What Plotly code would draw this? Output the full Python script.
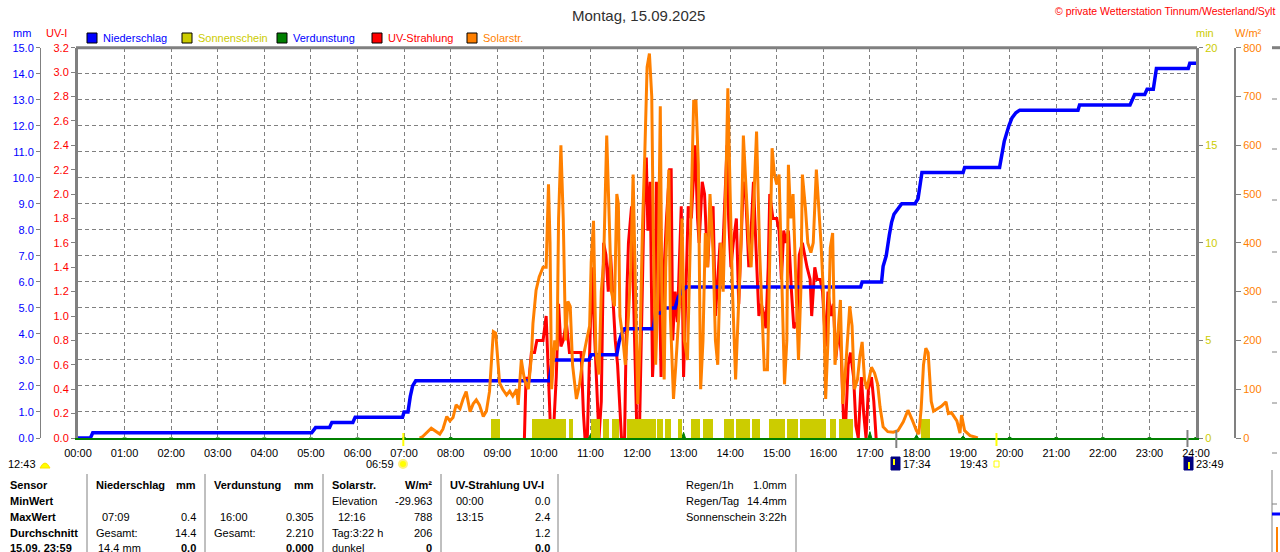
import plotly.graph_objects as go

# ---- data (Montag, 15.09.2025) ----
hour_labels = ["00:00", "01:00", "02:00", "03:00", "04:00", "05:00", "06:00", "07:00", "08:00",
               "09:00", "10:00", "11:00", "12:00", "13:00", "14:00", "15:00", "16:00", "17:00",
               "18:00", "19:00", "20:00", "21:00", "22:00", "23:00", "24:00"]

series_names = ["Niederschlag", "Sonnenschein", "Verdunstung", "UV-Strahlung", "Solarstr."]

# Niederschlag (mm, cumulative)
rain_times = ["00:00", "00:16", "00:19", "05:01", "05:06", "05:24", "05:27", "05:54", "05:57",
              "06:58", "07:00", "07:05", "07:08", "07:11", "07:15", "10:07", "10:11", "10:58",
              "11:01", "11:34", "11:37", "11:40", "11:44", "12:21", "12:24", "12:32", "12:34",
              "12:49", "12:53", "12:57", "13:03", "16:48", "16:50", "17:15", "17:17", "17:21",
              "17:25", "17:28", "17:31", "17:36", "17:41", "17:58", "18:02", "18:05", "18:07",
              "19:00", "19:02", "19:47", "19:51", "19:53", "19:59", "20:03", "20:08", "20:13",
              "21:28", "21:30", "22:35", "22:41", "22:54", "22:57", "23:05", "23:09", "23:50",
              "23:52", "24:00"]
rain_mm = [0, 0, 0.2, 0.2, 0.4, 0.4, 0.6, 0.6, 0.8,
           0.8, 1.0, 1.0, 1.6, 2.0, 2.2, 2.2, 3.0, 3.0,
           3.2, 3.2, 3.7, 4.0, 4.2, 4.2, 4.8, 4.8, 5.0,
           5.0, 5.4, 5.6, 5.8, 5.8, 6.0, 6.0, 6.6, 7.0,
           7.8, 8.3, 8.6, 8.8, 9.0, 9.0, 9.2, 9.8, 10.2,
           10.2, 10.4, 10.4, 11.1, 11.4, 12.0, 12.3, 12.5, 12.6,
           12.6, 12.8, 12.8, 13.2, 13.2, 13.4, 13.4, 14.2, 14.2,
           14.4, 14.4]

# Solarstrahlung (W/m²)
solar_times = ["07:20", "07:24", "07:35", "07:39", "07:46", "07:50", "07:55", "07:59", "08:03",
               "08:07", "08:12", "08:16", "08:20", "08:25", "08:29", "08:33", "08:37", "08:42",
               "08:46", "08:50", "08:55", "08:58", "09:03", "09:07", "09:12", "09:16", "09:20",
               "09:25", "09:27", "09:31", "09:35", "09:40", "09:44", "09:46", "09:50", "09:54",
               "09:59", "10:03", "10:06", "10:08", "10:10", "10:14", "10:17", "10:19", "10:22",
               "10:25", "10:28", "10:31", "10:34", "10:37", "10:42", "10:46", "10:50", "10:55",
               "10:59", "11:01", "11:04", "11:07", "11:11", "11:14", "11:17", "11:21", "11:24",
               "11:27", "11:31", "11:34", "11:36", "11:38", "11:42", "11:45", "11:49", "11:52",
               "11:55", "11:58", "12:01", "12:04", "12:07", "12:10", "12:13", "12:16", "12:19",
               "12:21", "12:24", "12:27", "12:30", "12:32", "12:35", "12:37", "12:41", "12:43",
               "12:47", "12:50", "12:55", "12:58", "13:01", "13:05", "13:10", "13:13", "13:16",
               "13:19", "13:22", "13:25", "13:28", "13:31", "13:34", "13:38", "13:41", "13:44",
               "13:48", "13:51", "13:55", "13:57", "14:00", "14:03", "14:07", "14:10", "14:14",
               "14:17", "14:20", "14:24", "14:27", "14:31", "14:34", "14:38", "14:41", "14:44",
               "14:48", "14:51", "14:54", "14:57", "15:00", "15:03", "15:07", "15:10", "15:13",
               "15:15", "15:18", "15:21", "15:25", "15:28", "15:31", "15:33", "15:37", "15:40",
               "15:44", "15:47", "15:51", "15:54", "15:57", "16:00", "16:03", "16:06", "16:09",
               "16:12", "16:15", "16:18", "16:22", "16:25", "16:29", "16:34", "16:37", "16:40",
               "16:44", "16:47", "16:50", "16:53", "16:56", "17:02", "17:06", "17:10", "17:13",
               "17:17", "17:23", "17:30", "17:36", "17:43", "17:49", "17:55", "18:00", "18:03",
               "18:06", "18:09", "18:12", "18:15", "18:17", "18:19", "18:22", "18:28", "18:32",
               "18:38", "18:41", "18:45", "18:52", "18:56", "18:58", "19:02", "19:09", "19:15",
               "19:19"]
solar_wm2 = [0, 3, 20, 15, 8, 18, 44, 35, 42,
             68, 60, 80, 95, 54, 70, 78, 68, 44,
             55, 95, 218, 215, 113, 100, 88, 96, 86,
             100, 68, 160, 120, 100, 167, 235, 303, 330,
             350, 350, 520, 400, 100, 200, 180, 450, 600,
             450, 200, 280, 270, 150, 80, 110, 160, 200,
             230, 360, 445, 180, 130, 300, 360, 620, 450,
             300, 270, 500, 480, 250, 200, 150, 250, 350,
             540, 300, 70, 200, 430, 580, 760, 788, 700,
             420, 150, 300, 680, 300, 120, 350, 550, 250,
             80, 150, 280, 450, 200, 160, 480, 690, 690,
             560, 100, 200, 420, 350, 500, 380, 200, 150,
             400, 300, 560, 717, 500, 300, 120, 250, 400,
             620, 520, 400, 350, 500, 628, 380, 250, 140,
             140, 400, 594, 540, 520, 540, 300, 110, 200,
             560, 450, 500, 300, 160, 300, 540, 470, 400,
             380, 400, 550, 480, 400, 300, 80, 200, 390,
             420, 150, 200, 283, 70, 150, 270, 230, 100,
             120, 167, 197, 120, 100, 145, 133, 110, 64,
             23, 13, 12, 15, 33, 57, 35, 15, 8,
             60, 150, 184, 175, 110, 75, 55, 60, 65,
             74, 50, 52, 35, 10, 47, 15, 5, 2,
             0]

# UV-Strahlung (UV-Index)
uv_times = ["09:35", "09:37", "09:41", "09:44", "09:48", "09:51", "09:59", "10:03", "10:06",
            "10:09", "10:12", "10:16", "10:19", "10:22", "10:25", "10:29", "10:33", "10:42",
            "10:48", "10:51", "10:53", "10:56", "10:59", "11:02", "11:05", "11:08", "11:11",
            "11:14", "11:17", "11:20", "11:23", "11:26", "11:29", "11:32", "11:35", "11:38",
            "11:40", "11:44", "11:47", "11:49", "11:53", "11:55", "11:58", "12:00", "12:03",
            "12:07", "12:09", "12:12", "12:14", "12:17", "12:20", "12:23", "12:25", "12:28",
            "12:31", "12:35", "12:38", "12:42", "12:44", "12:46", "12:49", "12:52", "12:57",
            "13:00", "13:03", "13:06", "13:10", "13:13", "13:15", "13:18", "13:20", "13:24",
            "13:27", "13:31", "13:34", "13:38", "13:41", "13:44", "13:47", "13:50", "13:53",
            "13:56", "13:58", "14:01", "14:04", "14:08", "14:11", "14:14", "14:17", "14:20",
            "14:24", "14:27", "14:30", "14:33", "14:37", "14:40", "14:44", "14:46", "14:49",
            "14:51", "14:55", "15:00", "15:03", "15:06", "15:09", "15:12", "15:15", "15:19",
            "15:22", "15:26", "15:29", "15:33", "15:36", "15:39", "15:43", "15:45", "15:49",
            "15:52", "15:56", "15:59", "16:03", "16:06", "16:10", "16:13", "16:16", "16:20",
            "16:23", "16:26", "16:28", "16:32", "16:35", "16:39", "16:42", "16:45", "16:49",
            "16:52", "16:55", "16:58", "17:02", "17:05", "17:08"]
uv_index = [0, 0.49, 0.49, 0.7, 0.7, 0.8, 0.8, 1.0, 0.5,
            0.0, 0.0, 0.5, 1.1, 0.75, 0.8, 0.95, 0.7, 0.7,
            0.7, 0.2, 0.0, 0.0, 0.8, 1.4, 0.9, 0.5, 0.0,
            0.3, 1.6, 1.5, 1.2, 1.5, 1.1, 0.8, 0.6, 0.2,
            0.0, 0.0, 1.2, 1.6, 1.9, 1.3, 0.4, 0.0, 0.0,
            1.2, 1.9, 2.3, 1.7, 2.1, 0.5, 0.9, 2.1, 1.6,
            0.5, 1.4, 1.8, 2.2, 2.2, 0.8, 1.2, 0.95, 1.9,
            0.5, 1.2, 1.9, 1.8, 2.2, 2.4, 1.8, 1.6, 2.1,
            2.0, 1.4, 1.8, 1.9, 1.0, 1.3, 1.6, 1.45, 1.9,
            2.4, 1.8, 1.4, 1.6, 1.8, 1.1, 1.6, 2.1, 2.0,
            1.4, 1.7, 2.1, 1.6, 1.0, 1.1, 1.0, 0.9, 1.4,
            2.0, 1.8, 1.8, 1.7, 1.3, 1.7, 1.6, 1.7, 1.2,
            0.9, 0.95, 1.5, 1.6, 1.5, 1.4, 1.3, 1.0, 1.4,
            1.3, 1.3, 1.2, 0.75, 1.2, 1.0, 1.1, 0.65, 0.9,
            0.7, 0.15, 0.0, 0.6, 0.7, 0.5, 0.1, 0.0, 0.5,
            0.2, 0.0, 0.4, 0.5, 0.3, 0.0]

# Sonnenschein (sunny stretches, 1 min per minute)
sun_start = ["08:52", "09:45", "10:32", "11:01", "11:16", "11:28", "11:47", "12:26", "12:36",
             "12:53", "13:10", "13:25", "13:52", "14:08", "14:28", "14:50", "15:13", "15:30",
             "16:09", "16:20", "18:06"]
sun_end = ["09:04", "10:28", "10:38", "11:12", "11:24", "11:37", "12:25", "12:33", "12:44",
           "12:58", "13:21", "13:38", "14:05", "14:26", "14:38", "15:10", "15:27", "16:03",
           "16:16", "16:38", "18:18"]
sun_minutes = [1] * len(sun_start)

# Verdunstung (mm per hour)
evap_times = ["01:00", "02:00", "03:00", "04:00", "05:00", "06:00", "07:00", "08:00", "09:00",
              "10:00", "11:00", "12:00", "13:00", "14:00", "15:00", "16:00", "17:00", "18:00",
              "19:00", "20:00", "21:00", "22:00", "23:00", "24:00"]
evap_mm = [0.01, 0.01, 0.01, 0.01, 0.01, 0.01, 0.02, 0.03, 0.06,
           0.10, 0.14, 0.18, 0.22, 0.25, 0.27, 0.305, 0.245, 0.12,
           0.08, 0.04, 0.03, 0.02, 0.02, 0.02]

# Sun / moon events
sunrise, sunset = "06:59", "19:43"
moonset, moonrise = "17:34", "23:49"


def hrs(t):
    h, m = t.split(":")
    return int(h) + int(m) / 60


W, H = 1280, 552


def px(x):
    return x / W


def py(y):
    return 1 - y / H


FONT = "Liberation Sans, Arial, sans-serif"
GRID = "#808080"
BLUE, YEL, GREEN, RED, ORANGE = "#0000FF", "#CCCC00", "#008000", "#FF0000", "#FF8000"

fig = go.Figure()

# sunshine bars (min axis)
sx = [(hrs(a) + hrs(b)) / 2 for a, b in zip(sun_start, sun_end)]
sw = [hrs(b) - hrs(a) for a, b in zip(sun_start, sun_end)]
fig.add_trace(go.Bar(x=sx, y=sun_minutes, width=sw, yaxis="y3", marker=dict(color=YEL, line=dict(width=0)),
                     showlegend=False, hoverinfo="skip"))

fig.add_trace(go.Scatter(x=[hrs(t) for t in solar_times], y=solar_wm2, yaxis="y4", mode="lines",
                         line=dict(color=ORANGE, width=3), showlegend=False))
fig.add_trace(go.Scatter(x=[hrs(t) for t in uv_times], y=uv_index, yaxis="y", mode="lines",
                         line=dict(color=RED, width=3), showlegend=False))

ex, ey = [], []
for t, v in zip(evap_times, evap_mm):
    ex += [hrs(t) - 0.04, hrs(t), hrs(t) + 0.04, None]
    ey += [0, v, 0, None]
fig.add_trace(go.Scatter(x=ex, y=ey, yaxis="y2", mode="lines", fill="toself", fillcolor=GREEN,
                         line=dict(color=GREEN, width=1), showlegend=False))

fig.add_trace(go.Scatter(x=[hrs(t) for t in rain_times], y=rain_mm, yaxis="y2", mode="lines",
                         line=dict(color=BLUE, width=3.5), showlegend=False))

tickfont = dict(family=FONT, size=11)
fig.update_layout(
    template="none",
    width=W, height=H, margin=dict(l=0, r=0, t=0, b=0, pad=0), autosize=False,
    paper_bgcolor="white", plot_bgcolor="white",
    font=dict(family=FONT, size=11, color="black"),
    showlegend=False, bargap=0,
    xaxis=dict(domain=[px(78), px(1196)], range=[0, 24], tickvals=list(range(25)), ticktext=hour_labels,
               automargin=False, showgrid=True, gridcolor=GRID, griddash="4px,3px", gridwidth=1,
               showline=True, linecolor=GREEN, linewidth=2, zeroline=False,
               ticks="outside", ticklen=4, tickcolor="rgba(0,0,0,0)", tickfont=dict(family=FONT, size=11, color="black")),
    yaxis=dict(domain=[py(438), py(47.7)], range=[0, 3.2], dtick=0.2, tickformat=".1f", automargin=False,
               showgrid=False, zeroline=False, showline=True, linecolor=GRID, linewidth=3,
               ticks="outside", ticklen=4, tickcolor=GRID, tickfont=dict(tickfont, color=RED)),
    yaxis2=dict(overlaying="y", anchor="free", position=px(40), side="left", range=[0, 15], dtick=1,
                tickformat=".1f", automargin=False, showgrid=True, gridcolor=GRID, griddash="4px,3px", gridwidth=1,
                zeroline=False, showline=True, linecolor=GRID, linewidth=1,
                ticks="outside", ticklen=4, tickcolor=GRID, tickfont=dict(tickfont, color=BLUE)),
    yaxis3=dict(overlaying="y", anchor="x", side="right", range=[0, 20], tickvals=[0, 5, 10, 15, 20],
                automargin=False, showgrid=False, zeroline=False, showline=True, linecolor=GRID, linewidth=3,
                ticks="outside", ticklen=4, tickcolor=GRID, tickfont=dict(tickfont, color=YEL)),
    yaxis4=dict(overlaying="y", anchor="free", position=px(1235), side="right", range=[0, 800], dtick=100,
                automargin=False, showgrid=False, zeroline=False, showline=True, linecolor=GRID, linewidth=2,
                ticks="outside", ticklen=5, tickcolor=GRID, tickfont=dict(tickfont, color=ORANGE)),
)

shapes = []
ann = []


def text(x, y, s, color="black", size=11, anchor="left", bold=False):
    ann.append(dict(x=px(x), y=py(y), xref="paper", yref="paper", text=f"<b>{s}</b>" if bold else s,
                    showarrow=False, xanchor=anchor, yanchor="middle",
                    font=dict(family=FONT, size=size, color=color)))


def rect(x0, y0, x1, y1, fill, line="black", lw=1):
    shapes.append(dict(type="rect", xref="paper", yref="paper", x0=px(x0), x1=px(x1), y0=py(y1), y1=py(y0),
                       fillcolor=fill, line=dict(color=line, width=lw)))


def pline(x0, y0, x1, y1, color=GRID, lw=1):
    shapes.append(dict(type="line", xref="paper", yref="paper", x0=px(x0), x1=px(x1), y0=py(y0), y1=py(y1),
                       line=dict(color=color, width=lw)))


# frame top
pline(76, 47.7, 1197, 47.7, GRID, 3)

# title & header
text(638, 15, "Montag, 15.09.2025", "#303030", 15, "center")
text(1277, 11, "© private Wetterstation Tinnum/Westerland/Sylt", RED, 10.5, "right")
text(22, 33, "mm", BLUE, 11, "center")
text(56, 33, "UV-I", RED, 11, "center")
text(1205, 33, "min", YEL, 11, "center")
text(1248, 33, "W/m²", ORANGE, 11, "center")

legend_fill = [BLUE, YEL, GREEN, RED, ORANGE]
legend_text = [BLUE, YEL, BLUE, RED, ORANGE]
for i, name in enumerate(series_names):
    x0 = 87 + 95 * i
    rect(x0, 33, x0 + 10, 43, legend_fill[i])
    text(x0 + 14, 38, name, legend_text[i], 11)

# sun / moon markers on the time axis
for t, c, y0, y1 in [(sunrise, "#FFFF00", 433, 446), (sunset, "#FFFF00", 433, 446),
                     (moonset, GRID, 430, 448), (moonrise, GRID, 430, 447)]:
    shapes.append(dict(type="line", xref="x", yref="paper", x0=hrs(t), x1=hrs(t), y0=py(y1), y1=py(y0),
                       line=dict(color=c, width=2)))

text(38, 464, "12:43", "black", 11, "right")
shapes.append(dict(type="path", xref="paper", yref="paper", fillcolor="#FFFF00", line=dict(color="#FFE000", width=1),
                   path=f"M {px(40)} {py(468)} Q {px(45)} {py(458)} {px(50)} {py(468)} Z"))
text(396, 464, sunrise, "black", 11, "right")
shapes.append(dict(type="circle", xref="paper", yref="paper", x0=px(399), x1=px(407), y0=py(468), y1=py(460),
                   fillcolor="#FFFF00", line=dict(color="#FFF080", width=2)))
rect(891, 457, 900, 470, "#000080", "#000080")
pline(894, 459, 894, 465, "#FFFF00", 2)
text(901, 464, moonset, "black", 11, "left")
text(990, 464, sunset, "black", 11, "right")
rect(994, 461, 999, 467, "white", "#FFFF00")
rect(1184, 457, 1193, 470, "#000080", "#000080")
pline(1189, 462, 1189, 469, "#FFFF00", 2)
text(1194, 464, moonrise, "black", 11, "left")

# bottom statistics table
for xs in [87, 205, 323, 441, 558, 796]:
    pline(xs, 474, xs, 552, GRID, 1)
rows = [485, 501, 517, 533, 548]
for y, s in zip(rows, ["Sensor", "MinWert", "MaxWert", "Durchschnitt", "15.09. 23:59"]):
    text(8, y, s, "black", 11, "left", True)

cells = [
    (94, 485, "Niederschlag", "left", True), (198, 485, "mm", "right", True),
    (212, 485, "Verdunstung", "left", True), (316, 485, "mm", "right", True),
    (330, 485, "Solarstr.", "left", True), (434, 485, "W/m²", "right", True),
    (448, 485, "UV-Strahlung UV-I", "left", True),
    (330, 501, "Elevation", "left", False), (434, 501, "-29.963", "right", False),
    (454, 501, "00:00", "left", False), (552, 501, "0.0", "right", False),
    (100, 517, "07:09", "left", False), (198, 517, "0.4", "right", False),
    (218, 517, "16:00", "left", False), (316, 517, "0.305", "right", False),
    (336, 517, "12:16", "left", False), (434, 517, "788", "right", False),
    (454, 517, "13:15", "left", False), (552, 517, "2.4", "right", False),
    (94, 533, "Gesamt:", "left", False), (198, 533, "14.4", "right", False),
    (212, 533, "Gesamt:", "left", False), (316, 533, "2.210", "right", False),
    (330, 533, "Tag:3:22 h", "left", False), (434, 533, "206", "right", False),
    (552, 533, "1.2", "right", False),
    (96, 548, "14.4 mm", "left", False), (198, 548, "0.0", "right", True),
    (316, 548, "0.000", "right", True),
    (330, 548, "dunkel", "left", False), (434, 548, "0", "right", True),
    (552, 548, "0.0", "right", True),
    (684, 485, "Regen/1h", "left", False), (789, 485, "1.0mm", "right", False),
    (684, 501, "Regen/Tag", "left", False), (789, 501, "14.4mm", "right", False),
    (684, 517, "Sonnenschein", "left", False), (789, 517, "3:22h", "right", False),
]
for x, y, s, a, b in cells:
    text(x, y, s, "black", 11, a, b)

# clipped neighbour panel at the right edge
pline(1272, 47.7, 1280, 47.7, GRID, 3)
for yy in [99, 149, 200, 252, 302, 352, 403, 453, 504]:
    pline(1272, yy, 1277, yy, GRID, 1)
pline(1272, 470, 1272, 552, GRID, 1)
pline(1272, 514, 1280, 514, BLUE, 3)
pline(1277, 527, 1277, 552, ORANGE, 2)

fig.update_layout(shapes=shapes, annotations=ann)
fig.write_html("out.html", config={"displayModeBar": False},
               post_script="document.body.style.margin='0';document.body.style.overflow='hidden';")
